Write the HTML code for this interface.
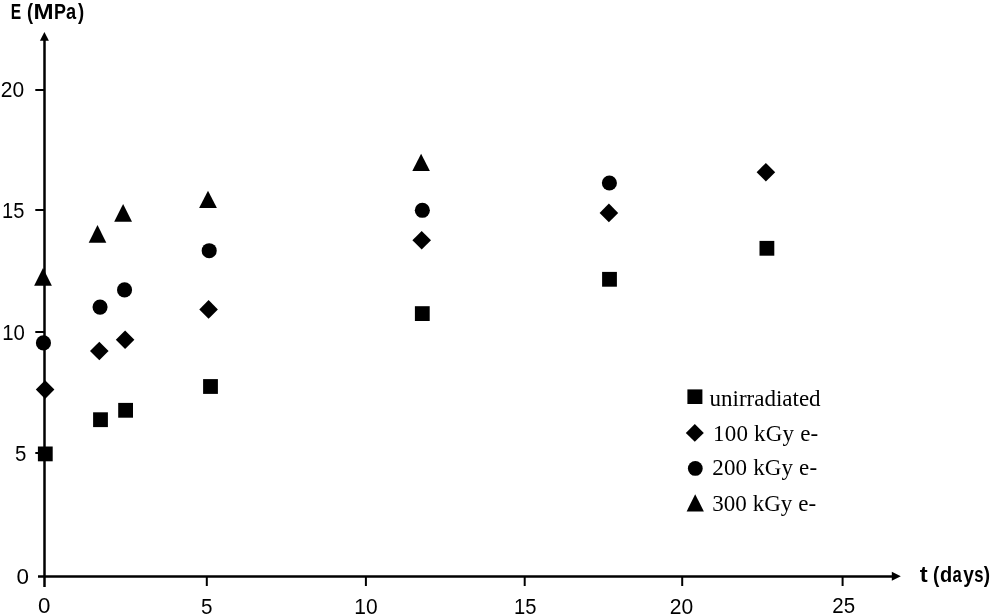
<!DOCTYPE html>
<html><head><meta charset="utf-8"><style>
html,body{margin:0;padding:0;background:#fff;width:991px;height:616px;overflow:hidden}
svg{display:block;will-change:transform}
.l{font-family:"Liberation Sans",sans-serif;font-size:21.8px;fill:#000}
.b{font-family:"Liberation Sans",sans-serif;font-size:21.9px;font-weight:bold;fill:#000}
.s{font-family:"Liberation Serif",serif;font-size:23px;fill:#000}
</style></head><body>
<svg width="991" height="616" viewBox="0 0 991 616">
<rect width="991" height="616" fill="#fff"/>
<!-- axes -->
<g stroke="#000" fill="none">
<line x1="44.5" y1="39" x2="44.5" y2="587" stroke-width="2.5"/>
<line x1="38" y1="576.5" x2="893" y2="576.5" stroke-width="2.3"/>
<g stroke-width="2">
<line x1="35.3" y1="90" x2="44" y2="90"/>
<line x1="35.3" y1="210" x2="44" y2="210"/>
<line x1="35.3" y1="332" x2="44" y2="332"/>
<line x1="35.3" y1="453" x2="44" y2="453"/>
<line x1="206.8" y1="577" x2="206.8" y2="586"/>
<line x1="365.9" y1="577" x2="365.9" y2="586"/>
<line x1="524.7" y1="577" x2="524.7" y2="586"/>
<line x1="682.2" y1="577" x2="682.2" y2="586"/>
<line x1="842.6" y1="577" x2="842.6" y2="586"/>
</g>
</g>
<!-- arrows -->
<polygon points="44.4,32 39.9,40.8 48.9,40.8" fill="#000"/>
<polygon points="900.8,576.3 891.8,571.8 891.8,580.8" fill="#000"/>
<!-- axis titles -->
<text class="b" x="10.79" y="19.0" textLength="10.42" lengthAdjust="spacingAndGlyphs">E</text>
<text class="b" x="26.97" y="19.0" textLength="6.05" lengthAdjust="spacingAndGlyphs">(</text>
<text class="b" x="33.57" y="19.0" textLength="20.11" lengthAdjust="spacingAndGlyphs">M</text>
<text class="b" x="53.89" y="19.0" textLength="11.96" lengthAdjust="spacingAndGlyphs">P</text>
<text class="b" x="65.91" y="19.0" textLength="10.14" lengthAdjust="spacingAndGlyphs">a</text>
<text class="b" x="77.90" y="19.0" textLength="6.16" lengthAdjust="spacingAndGlyphs">)</text>
<text class="b" x="919.70" y="582.3" textLength="7.92" lengthAdjust="spacingAndGlyphs">t</text>
<text class="b" x="932.93" y="582.3" textLength="6.30" lengthAdjust="spacingAndGlyphs">(</text>
<text class="b" x="940.05" y="582.3" textLength="12.21" lengthAdjust="spacingAndGlyphs">d</text>
<text class="b" x="952.46" y="582.3" textLength="9.28" lengthAdjust="spacingAndGlyphs">a</text>
<text class="b" x="963.14" y="582.3" textLength="10.65" lengthAdjust="spacingAndGlyphs">y</text>
<text class="b" x="974.27" y="582.3" textLength="9.28" lengthAdjust="spacingAndGlyphs">s</text>
<text class="b" x="983.69" y="582.3" textLength="6.29" lengthAdjust="spacingAndGlyphs">)</text>
<!-- labels -->
<text class="l" x="0.76" y="97.20" textLength="23.36" lengthAdjust="spacingAndGlyphs">20</text>
<text class="l" x="2.02" y="218.30" textLength="22.30" lengthAdjust="spacingAndGlyphs">15</text>
<text class="l" x="2.14" y="340.35" textLength="22.67" lengthAdjust="spacingAndGlyphs">10</text>
<text class="l" x="14.92" y="460.72" textLength="11.37" lengthAdjust="spacingAndGlyphs">5</text>
<text class="l" x="16.61" y="583.90" textLength="12.48" lengthAdjust="spacingAndGlyphs">0</text>
<text class="l" x="37.94" y="613.28" textLength="12.41" lengthAdjust="spacingAndGlyphs">0</text>
<text class="l" x="200.88" y="613.91" textLength="11.48" lengthAdjust="spacingAndGlyphs">5</text>
<text class="l" x="354.28" y="613.80" textLength="23.36" lengthAdjust="spacingAndGlyphs">10</text>
<text class="l" x="513.94" y="613.80" textLength="22.46" lengthAdjust="spacingAndGlyphs">15</text>
<text class="l" x="669.74" y="613.70" textLength="23.43" lengthAdjust="spacingAndGlyphs">20</text>
<text class="l" x="832.26" y="612.50" textLength="22.77" lengthAdjust="spacingAndGlyphs">25</text>
<!-- /labels -->
<!-- squares -->
<g fill="#000">
<rect x="37.9" y="446.5" width="14.8" height="14.8"/>
<rect x="93.1" y="412.3" width="14.8" height="14.8"/>
<rect x="118.2" y="402.9" width="14.8" height="14.8"/>
<rect x="203.1" y="379.1" width="14.8" height="14.8"/>
<rect x="414.9" y="306.2" width="14.8" height="14.8"/>
<rect x="602.1" y="271.9" width="14.8" height="14.8"/>
<rect x="759.5" y="240.9" width="14.8" height="14.8"/>
<!-- diamonds -->
<polygon points="45.1,380.3 54.4,389.6 45.1,398.9 35.8,389.6"/>
<polygon points="99.3,341.7 108.6,351 99.3,360.3 90,351"/>
<polygon points="125.1,330.5 134.4,339.8 125.1,349.1 115.8,339.8"/>
<polygon points="208.6,300.1 217.9,309.4 208.6,318.7 199.3,309.4"/>
<polygon points="421.7,230.9 431,240.2 421.7,249.5 412.4,240.2"/>
<polygon points="608.9,203.6 618.2,212.9 608.9,222.2 599.6,212.9"/>
<polygon points="765.9,162.9 775.2,172.2 765.9,181.5 756.6,172.2"/>
<!-- circles -->
<circle cx="43.45" cy="342.9" r="7.55"/>
<circle cx="100.05" cy="307.1" r="7.55"/>
<circle cx="124.55" cy="289.9" r="7.55"/>
<circle cx="209.2" cy="250.7" r="7.55"/>
<circle cx="422.35" cy="210.3" r="7.55"/>
<circle cx="609.4" cy="183" r="7.55"/>
<!-- triangles -->
<polygon points="43,268.1 51.9,285.8 34.1,285.8"/>
<polygon points="97.5,225 106.3,242.7 88.7,242.7"/>
<polygon points="123.1,204 132,221.7 114.2,221.7"/>
<polygon points="208,190.8 216.9,208.1 199.1,208.1"/>
<polygon points="421.1,153.7 429.9,171 412.3,171"/>
<!-- legend markers -->
<rect x="687.4" y="389.4" width="15" height="14.6"/>
<polygon points="694.8,424 703.8,432.9 694.8,441.8 685.8,432.9"/>
<circle cx="695.3" cy="468.4" r="7.4"/>
<polygon points="695.2,494.3 703.9,511.5 686.6,511.5"/>
</g>
<!-- legend text -->
<text class="s" x="709.5" y="406.2">unirradiated</text>
<text class="s" x="713" y="441.4" letter-spacing="0.2">100 kGy e-</text>
<text class="s" x="712.3" y="475" letter-spacing="0.15">200 kGy e-</text>
<text class="s" x="712.2" y="510.8" letter-spacing="0.05">300 kGy e-</text>
</svg>
</body></html>
